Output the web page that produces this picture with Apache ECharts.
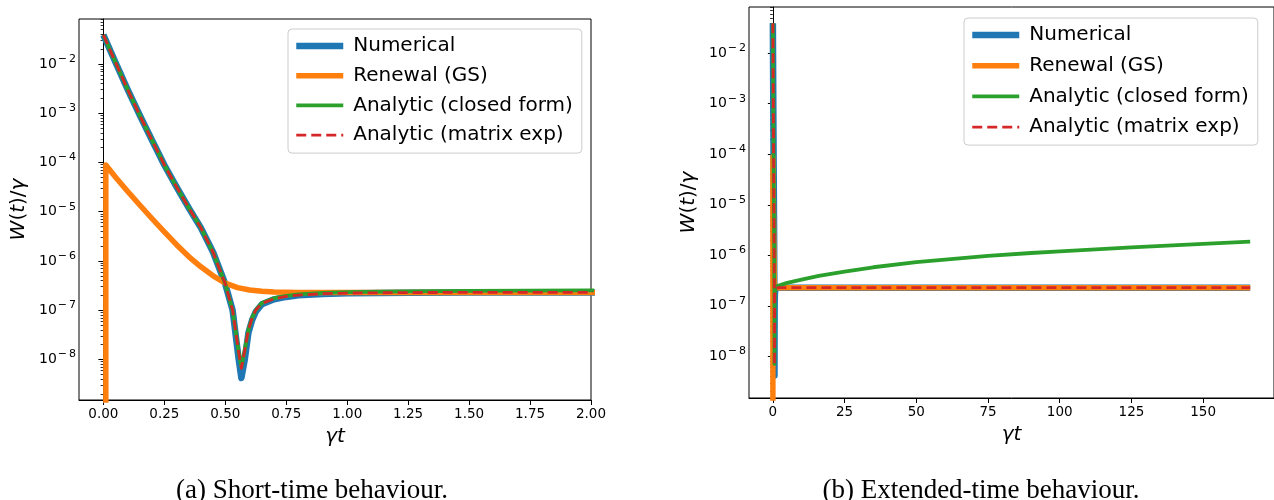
<!DOCTYPE html>
<html>
<head>
<meta charset="utf-8">
<script src="https://cdn.jsdelivr.net/npm/echarts@6/dist/echarts.min.js"></script>
<style>
html, body { margin: 0; padding: 0; background: #fff; }
#chart { width: 1274px; height: 500px; }
</style>
</head>
<body>
<div id="chart"></div>
<script>
// time points (gamma*t) shared by numerical / analytic curves
var tMain = [0, 0.05, 0.1, 0.15, 0.2, 0.25, 0.3, 0.35, 0.4, 0.45, 0.5, 0.53, 0.555, 0.566, 0.58, 0.595,
    0.61, 0.625, 0.65, 0.7, 0.75, 0.8, 0.9, 1.0, 1.25, 1.5, 2, 5, 10, 16, 25, 35, 50, 65, 75, 90, 100,
    125, 150, 166.4];

var numerical = [3.9e-2, 1.07e-2, 3.0e-3, 8.9e-4, 2.8e-4, 8.9e-5, 3.2e-5, 1.2e-5, 4.7e-6, 1.5e-6, 3.4e-7, 1.0e-7,
    1.0e-8, 4.2e-9, 1.0e-8, 3.5e-8, 6.3e-8, 9.3e-8, 1.32e-7, 1.66e-7, 1.86e-7, 2.0e-7, 2.14e-7, 2.21e-7,
    2.27e-7, 2.29e-7, 2.29e-7, 2.29e-7, 2.29e-7, 2.29e-7, 2.29e-7, 2.29e-7, 2.29e-7, 2.29e-7, 2.29e-7,
    2.29e-7, 2.29e-7, 2.29e-7, 2.29e-7, 2.29e-7];

var closedForm = [3.9e-2, 1.07e-2, 3.0e-3, 8.9e-4, 2.8e-4, 8.9e-5, 3.2e-5, 1.2e-5, 4.7e-6, 1.5e-6, 3.4e-7, 1.0e-7,
    1.41e-8, 7.1e-9, 1.58e-8, 4.0e-8, 7.0e-8, 1.0e-7, 1.4e-7, 1.75e-7, 1.95e-7, 2.09e-7, 2.24e-7, 2.33e-7,
    2.42e-7, 2.46e-7, 2.53e-7, 2.84e-7, 3.31e-7, 3.9e-7, 4.77e-7, 5.8e-7, 7.3e-7, 8.7e-7, 9.7e-7, 1.11e-6,
    1.2e-6, 1.44e-6, 1.69e-6, 1.86e-6];

var matrixExp = [3.9e-2, 1.07e-2, 3.0e-3, 8.9e-4, 2.8e-4, 8.9e-5, 3.2e-5, 1.2e-5, 4.7e-6, 1.5e-6, 3.4e-7, 1.0e-7,
    1.41e-8, 6.6e-9, 1.58e-8, 4.0e-8, 7.0e-8, 1.0e-7, 1.38e-7, 1.7e-7, 1.9e-7, 2.03e-7, 2.16e-7, 2.23e-7,
    2.28e-7, 2.3e-7, 2.3e-7, 2.3e-7, 2.3e-7, 2.3e-7, 2.3e-7, 2.3e-7, 2.3e-7, 2.3e-7, 2.3e-7, 2.3e-7,
    2.3e-7, 2.3e-7, 2.3e-7, 2.3e-7];

// renewal (GS) has its own grid, starts from zero just after t=0
var tRenewal = [0.01, 0.01, 0.05, 0.1, 0.15, 0.2, 0.25, 0.3, 0.35, 0.4, 0.45, 0.5, 0.55, 0.6, 0.65, 0.7,
    0.8, 1.0, 1.5, 2, 166.4];
var renewal = [1e-12, 8.9e-5, 5.0e-5, 2.57e-5, 1.35e-5, 7.2e-6, 3.9e-6, 2.14e-6, 1.23e-6, 7.6e-7, 5.0e-7,
    3.55e-7, 2.88e-7, 2.57e-7, 2.42e-7, 2.34e-7, 2.3e-7, 2.29e-7, 2.29e-7, 2.29e-7, 2.29e-7];

var shortTicks = [0, 0.25, 0.5, 0.75, 1.0, 1.25, 1.5, 1.75, 2.0];
var longTicks = [0, 25, 50, 75, 100, 125, 150];
var decadeTicks = [1e-8, 1e-7, 1e-6, 1e-5, 1e-4, 1e-3, 1e-2];
var yMin = 1.5e-9, yMax = 0.082;

var names = ['Numerical', 'Renewal (GS)', 'Analytic (closed form)', 'Analytic (matrix exp)'];
var colors = ['#1f77b4', '#ff7f0e', '#2ca02c', '#d62728'];
var widths = [6.5, 5.5, 3.8, 2.8];

var minorTicks = [];
[1e-9, 1e-8, 1e-7, 1e-6, 1e-5, 1e-4, 1e-3, 1e-2].forEach(function (d) {
    for (var k = 2; k <= 9; k++) {
        var v = k * d;
        if (v > yMin && v < yMax) minorTicks.push(v);
    }
});

function pts(ts, vs) {
    return ts.map(function (t, i) { return [t, vs[i]]; });
}

var FONT = 'DejaVu Sans';

function powLabel(v) {
    var e = Math.round(Math.log10(v));
    return '{b|10}{m|\u2212}{s|' + Math.abs(e) + '}';
}

var tickLabelRich = {
    b: { fontFamily: FONT, fontSize: 14, color: '#000' },
    m: { fontFamily: FONT, fontSize: 11, color: '#000', padding: [0, 2, 10, 1] },
    s: { fontFamily: FONT, fontSize: 11, color: '#000', padding: [0, 0, 10, 0] }
};

var nameRich = {
    i: { fontFamily: FONT, fontSize: 20, fontStyle: 'italic', color: '#000' },
    n: { fontFamily: FONT, fontSize: 20, color: '#000' }
};

function mainY(gridIndex) {
    return {
        type: 'log', gridIndex: gridIndex, min: yMin, max: yMax,
        name: '{i|W}{n|(}{i|t}{n|)/}{i|γ}', nameLocation: 'middle', nameGap: 50,
        nameTextStyle: { rich: nameRich },
        axisLine: { show: true, lineStyle: { color: '#000', width: 1 } },
        axisTick: { show: true, length: 5, customValues: decadeTicks, lineStyle: { color: '#000', width: 1 } },
        axisLabel: { show: true, margin: 3, customValues: decadeTicks, formatter: powLabel, rich: tickLabelRich },
        splitLine: { show: false }
    };
}

function minorY(gridIndex) {
    return {
        type: 'log', gridIndex: gridIndex, min: yMin, max: yMax,
        axisLine: { show: false },
        axisTick: { show: true, length: 2.8, customValues: minorTicks, lineStyle: { color: '#000', width: 0.8 } },
        axisLabel: { show: false },
        splitLine: { show: false }
    };
}

function mainX(gridIndex, min, max, ticks, fmt) {
    return {
        type: 'value', gridIndex: gridIndex, min: min, max: max,
        name: '{i|γt}', nameLocation: 'middle', nameGap: 27,
        nameTextStyle: { rich: nameRich },
        axisLine: { show: true, onZero: false, lineStyle: { color: '#000', width: 1 } },
        axisTick: { show: true, length: 5, customValues: ticks, lineStyle: { color: '#000', width: 1 } },
        axisLabel: { show: true, margin: 7, customValues: ticks, formatter: fmt,
            fontFamily: FONT, fontSize: 13.5, color: '#000' },
        splitLine: { show: false }
    };
}

function hiddenX(gridIndex, min, max) {
    return { type: 'value', gridIndex: gridIndex, min: min, max: max, show: false };
}

var series = [];
[0, 1].forEach(function (g) {
    var data = [pts(tMain, numerical), pts(tRenewal, renewal), pts(tMain, closedForm), pts(tMain, matrixExp)];
    data.forEach(function (d, i) {
        series.push({
            name: names[i], type: 'line', xAxisIndex: g, yAxisIndex: g,
            data: d, showSymbol: false, symbol: 'none', clip: true,
            lineStyle: { color: colors[i], width: widths[i], type: i === 3 ? [10, 5] : 'solid',
                join: 'round', cap: 'butt' },
            itemStyle: { color: colors[i] },
            emphasis: { disabled: true }
        });
    });
});

function legendData() {
    return names.map(function (n, i) {
        return { name: n, itemStyle: { opacity: 0 }, lineStyle: { width: widths[i] } };
    });
}

function legendBox(left, top, gap) {
    return {
        orient: 'vertical', left: left, top: top, itemGap: gap,
        itemWidth: 47, itemHeight: 14, selectedMode: false,
        padding: [7, 9, 8, 5],
        backgroundColor: 'rgba(255,255,255,0.8)', borderColor: '#cccccc', borderWidth: 1, borderRadius: 4,
        textStyle: { fontFamily: FONT, fontSize: 20, color: '#000', padding: [0, 0, 0, 5] },
        data: legendData()
    };
}

var captionStyle = { fontFamily: 'Liberation Serif', fontSize: 27, fontWeight: 'normal', color: '#000' };

var option = {
    animation: false,
    backgroundColor: '#fff',
    title: [
        { text: '(a) Short-time behaviour.', left: 307, top: 472, textAlign: 'center', textStyle: captionStyle },
        { text: '(b) Extended-time behaviour.', left: 976, top: 472, textAlign: 'center', textStyle: captionStyle }
    ],
    legend: [legendBox(288, 29, 9.7), legendBox(964, 18, 10.7)],
    grid: [
        { left: 79, top: 19, width: 512, height: 381, show: true, borderColor: '#000', borderWidth: 1 },
        { left: 749, top: 7, width: 528, height: 391, show: true, borderColor: '#000', borderWidth: 1 },
        { left: 79, top: 19, width: 512, height: 381 },
        { left: 749, top: 7, width: 528, height: 391 }
    ],
    xAxis: [
        mainX(0, -0.1, 2.0, shortTicks, function (v) { return v.toFixed(2); }),
        mainX(1, -8.32, 174.7, longTicks, function (v) { return String(v); }),
        hiddenX(2, -0.1, 2.0),
        hiddenX(3, -8.32, 174.7)
    ],
    yAxis: [mainY(0), mainY(1), minorY(2), minorY(3)],
    series: series
};

var myChart = echarts.init(document.getElementById('chart'));
myChart.setOption(option);
</script>
</body>
</html>
